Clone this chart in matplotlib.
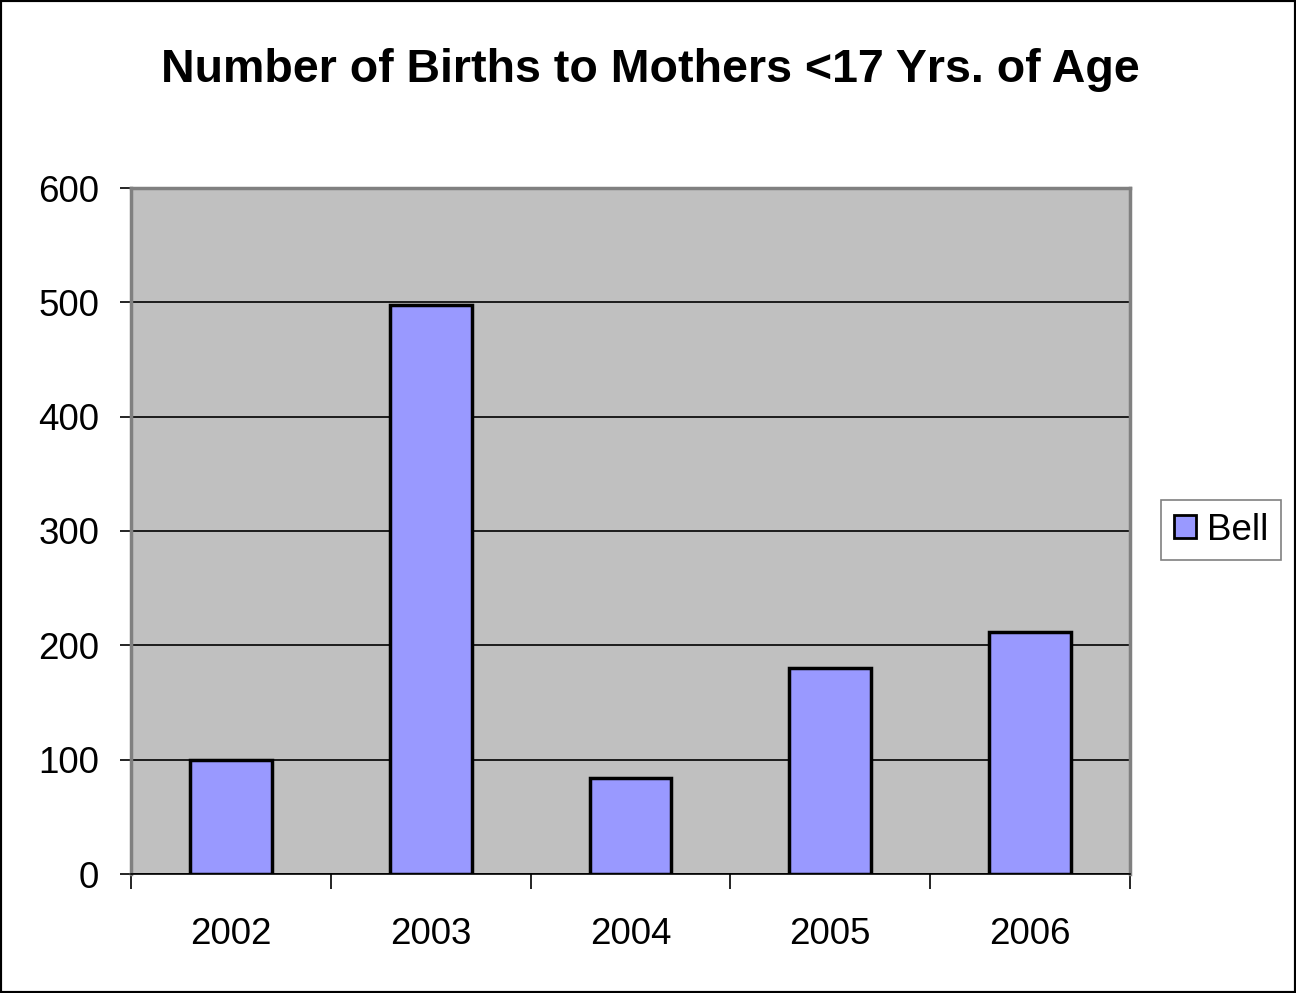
import matplotlib
matplotlib.use("Agg")
from matplotlib import pyplot as plt
from matplotlib.patches import Rectangle

years = ["2002", "2003", "2004", "2005", "2006"]
births = [100, 498, 84, 180, 212]
yticks = [0, 100, 200, 300, 400, 500, 600]

plt.rcParams['font.family'] = ['Liberation Sans', 'DejaVu Sans']

fig = plt.figure(figsize=(12.96, 9.93), dpi=100)
ax = fig.add_axes([131/1296, 1 - 874/993, 999/1296, 686/993])
ax.set_facecolor('#c0c0c0')

x = range(len(years))
ax.bar(x, births, width=0.41, color='#9999ff', edgecolor='black', linewidth=2.5,
       label='Bell', zorder=3)

ax.set_xlim(-0.5, len(years) - 0.5)
ax.set_ylim(0, 600)
ax.set_yticks(yticks)
ax.set_yticklabels([str(v) for v in yticks], fontsize=26.5)
ax.yaxis.grid(True, color='black', linewidth=1.2, zorder=1)
ax.set_axisbelow(True)

# category boundaries carry the tick marks, labels sit in between
ax.set_xticks([i - 0.5 for i in range(len(years) + 1)])
ax.set_xticklabels([])
ax.set_xticks(list(x), minor=True)
ax.set_xticklabels(years, minor=True, fontsize=26.5)
ax.tick_params(axis='x', which='minor', length=0, pad=31)
ax.tick_params(axis='x', which='major', length=11, width=1.2, color='black')
ax.tick_params(axis='y', length=8, width=1.2, color='black', pad=15)

for side in ['top', 'right', 'left']:
    ax.spines[side].set_color('#808080')
    ax.spines[side].set_linewidth(2.5)
ax.spines['bottom'].set_color('black')
ax.spines['bottom'].set_linewidth(1.2)

fig.text(650 / 1296, 1 - 82 / 993, "Number of Births to Mothers <17 Yrs. of Age",
         ha='center', va='baseline', fontsize=33.5, fontweight='bold')

leg = ax.legend(loc='center left', bbox_to_anchor=(1161 / 1296, 1 - 530 / 993),
                bbox_transform=fig.transFigure, fontsize=26.5, fancybox=False,
                framealpha=1, edgecolor='#808080', handlelength=0.6,
                handleheight=0.6, handletextpad=0.3, borderpad=0.35,
                borderaxespad=0)
leg.get_frame().set_linewidth(1.2)
for h in leg.legend_handles:
    h.set_linewidth(2)

fig.patches.append(Rectangle((0, 0), 1, 1, transform=fig.transFigure,
                             fill=False, edgecolor='black', linewidth=3))

fig.savefig("out.png", dpi=100)
